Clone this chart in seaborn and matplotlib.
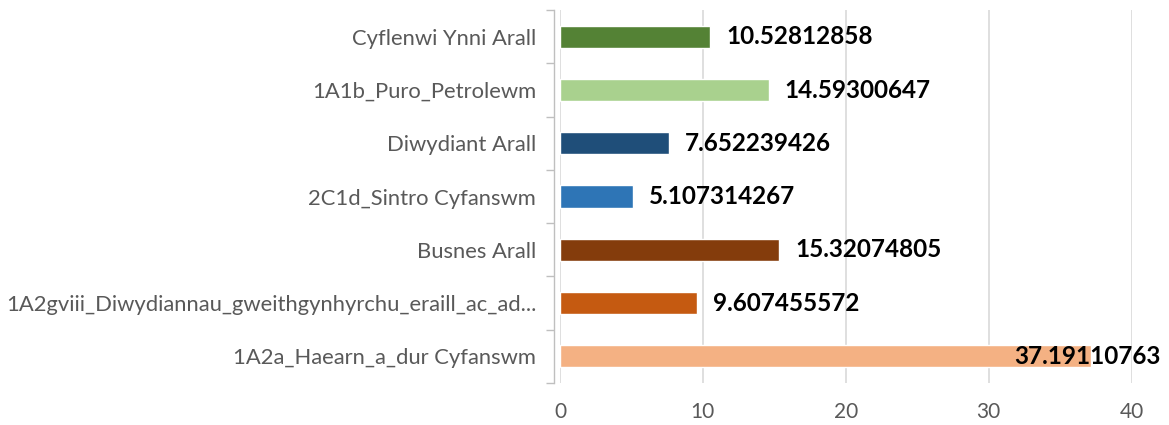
import matplotlib
matplotlib.use("Agg")
import matplotlib.pyplot as plt
import seaborn as sns
import pandas as pd
import numpy as np

categories = [
    "Cyflenwi Ynni Arall",
    "1A1b_Puro_Petrolewm",
    "Diwydiant Arall",
    "2C1d_Sintro Cyfanswm",
    "Busnes Arall",
    "1A2gviii_Diwydiannau_gweithgynhyrchu_eraill_ac_ad...",
    "1A2a_Haearn_a_dur Cyfanswm",
]
values = [10.52812858, 14.59300647, 7.652239426, 5.107314267,
          15.32074805, 9.607455572, 37.19110763]
value_labels = ["10.52812858", "14.59300647", "7.652239426", "5.107314267",
                "15.32074805", "9.607455572", "37.19110763"]
colors = ["#548235", "#A9D18E", "#1F4E79", "#2E75B6", "#843C0C", "#C55A11", "#F4B183"]
x_ticks = [0, 10, 20, 30, 40]

sns.set_theme(style="white")
plt.rcParams['font.family'] = ['Lato', 'DejaVu Sans']

df = pd.DataFrame({"cat": categories, "val": values})

fig = plt.figure(figsize=(11.69, 4.25), dpi=100)
ax = fig.add_axes([0.479, 0.099, 0.489, 0.877])

sns.barplot(data=df, y="cat", x="val", hue="cat", palette=colors,
            order=categories, hue_order=categories, legend=False,
            width=0.42, ax=ax, saturation=1)

ax.set_xlim(0, 40)
ax.set_ylim(6.5, -0.5)
ax.set_xticks(x_ticks)
ax.set_xticklabels([str(t) for t in x_ticks])
ax.set_yticks(range(len(categories)))
ax.set_yticklabels(categories)
ax.set_xlabel("")
ax.set_ylabel("")

ax.set_yticks(np.arange(-0.5, len(categories), 1), minor=True)
ax.tick_params(axis="y", which="major", left=False, length=0, pad=13,
               labelsize=15.8, labelcolor="#595959")
ax.tick_params(axis="y", which="minor", left=True, length=6, color="#BFBFBF",
               width=1, direction="out")
ax.tick_params(axis="x", which="major", bottom=False, length=0, pad=14,
               labelsize=15, labelcolor="#595959")

ax.xaxis.grid(True, color="#D9D9D9", linewidth=1.2)
ax.yaxis.grid(False)
ax.set_axisbelow(True)
for s in ["top", "right", "bottom"]:
    ax.spines[s].set_visible(False)
ax.spines["left"].set_color("#BFBFBF")
ax.spines["left"].set_linewidth(1)
ax.spines["left"].set_position(("outward", 4))

for i, (v, lab) in enumerate(zip(values, value_labels)):
    off = -77 if v > 30 else 16
    ax.annotate(lab, (v, i), xytext=(off, 0), textcoords="offset pixels",
                ha="left", va="center", fontsize=17.5, fontweight="bold",
                color="black", annotation_clip=False)

fig.savefig("out.png", dpi=100)
